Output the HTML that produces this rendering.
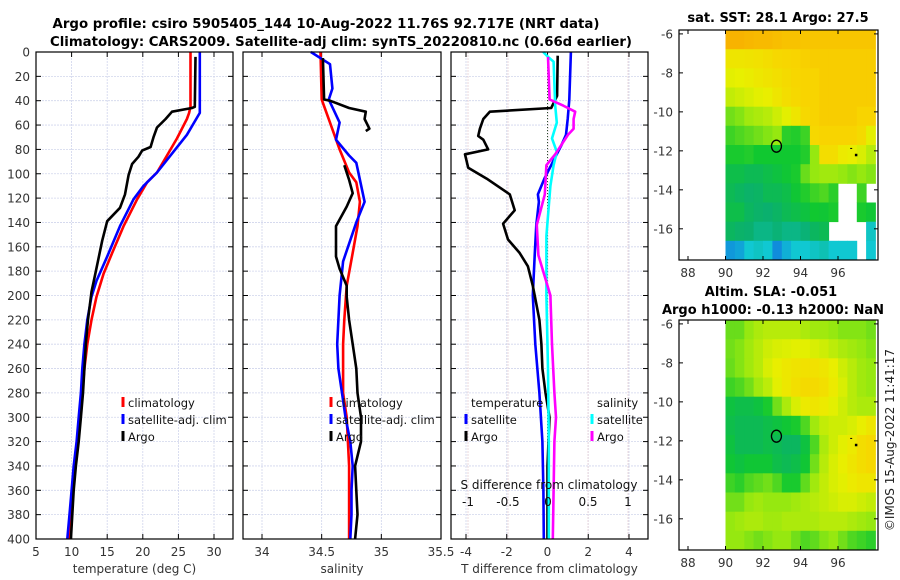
<!DOCTYPE html>
<html><head><meta charset="utf-8">
<style>
html,body{margin:0;padding:0;background:#fff;}
svg{display:block;font-family:"DejaVu Sans","Liberation Sans",sans-serif;}
</style></head>
<body>
<svg id="fig" width="900" height="580" viewBox="0 0 900 580" xmlns="http://www.w3.org/2000/svg">
<text x="326" y="28" font-size="13" font-weight="bold" text-anchor="middle" textLength="547" lengthAdjust="spacingAndGlyphs">Argo profile: csiro 5905405_144 10-Aug-2022 11.76S 92.717E (NRT data)</text>
<text x="341" y="46" font-size="13" font-weight="bold" text-anchor="middle" textLength="582" lengthAdjust="spacingAndGlyphs">Climatology: CARS2009. Satellite-adj clim: synTS_20220810.nc (0.66d earlier)</text>
<text x="778" y="22" font-size="13" font-weight="bold" text-anchor="middle">sat. SST: 28.1 Argo: 27.5</text>
<text x="771" y="296" font-size="13" font-weight="bold" text-anchor="middle">Altim. SLA: -0.051</text>
<text x="773" y="314" font-size="13" font-weight="bold" text-anchor="middle">Argo h1000: -0.13 h2000: NaN</text>
<text transform="translate(894,440) rotate(-90)" font-size="12" text-anchor="middle" fill="#222">©IMOS 15-Aug-2022 11:41:17</text>
<g id="plots"></g>
</svg>
<script>
// ---------- data ----------
const depthT=[0,45,50,55,71,85,99,107,121,143,165,182,201,220,240,260,280,300,320,340,360,380,400];
const tempClim=[26.7,26.7,26.5,26.2,24.8,23.4,22.0,20.6,19.2,17.3,15.7,14.5,13.5,12.8,12.2,11.8,11.5,11.2,10.9,10.5,10.2,9.9,9.6];
const depthTS=[0,50,68,82,99,110,121,143,168,188,201,220,240,260,280,300,320,340,360,380,400];
const tempSat=[28.0,28.0,26.2,24.3,22.0,20.1,18.7,16.8,15.0,13.5,12.8,12.2,11.8,11.5,11.3,11.0,10.7,10.3,10.0,9.7,9.4];
const depthTA=[4,45,46,49,55,62,70,78,81,86,92,101,117,128,139,155,172,183,197,220,240,260,280,300,320,340,360,380,400];
const tempArgo=[27.4,27.3,26.9,24.1,23.2,22.0,21.5,21.1,19.9,19.4,18.5,18.0,17.5,16.8,15.0,14.3,13.7,13.3,12.8,12.3,12.0,11.8,11.6,11.3,11.0,10.6,10.3,10.1,9.9];

const depthSC=[0,39,58,80,99,107,123,143,165,192,220,240,260,280,300,320,340,360,380,400];
const salClim=[34.49,34.5,34.57,34.65,34.73,34.79,34.82,34.80,34.76,34.71,34.69,34.68,34.68,34.68,34.71,34.72,34.73,34.73,34.73,34.73];
const depthSS=[0,10,30,39,58,72,85,91,123,140,172,200,220,240,260,280,300,320,340,360,380,400];
const salSat=[34.41,34.57,34.59,34.56,34.65,34.62,34.73,34.79,34.86,34.79,34.68,34.65,34.64,34.63,34.64,34.67,34.70,34.74,34.76,34.75,34.75,34.74];
const depthSA=[5,39,40,46,49,55,63,65,83,93,105,116,127,143,168,178,192,201,220,240,260,280,300,320,340,360,380,400];
const salArgo=[34.51,34.52,34.57,34.73,34.87,34.86,34.90,34.87,null,34.69,34.73,34.76,34.71,34.62,34.62,34.65,34.71,34.71,34.73,34.76,34.79,34.80,34.83,34.83,34.78,34.79,34.80,34.78];

const depthDTS=[0,39,55,68,77,85,104,117,123,142,167,200,240,280,320,360,400];
const dTsat=[1.15,1.07,0.99,0.91,0.67,0.42,-0.15,-0.47,-0.42,-0.55,-0.63,-0.72,-0.6,-0.4,-0.25,-0.2,-0.18];
const depthDTA=[3,36,46,49,55,63,69,72,80,84,95,104,117,130,141,154,165,176,192,200,220,240,260,280,300,320,340,360,380,400];
const dTargo=[0.5,0.47,0.18,-2.83,-3.15,-3.32,-3.4,-3.15,-2.91,-4.05,-3.89,-2.99,-1.85,-1.61,-2.18,-1.94,-1.37,-0.96,-0.72,-0.63,-0.4,-0.3,-0.25,-0.1,0.1,0.05,0.0,0.0,0.0,0.0];
const depthDSS=[0,4,8,44,58,71,82,93,110,151,200,260,320,400];
const dSsat=[-0.06,0,0.07,0.09,0.11,0.05,0.11,0.07,0.03,-0.02,-0.02,0.0,0.01,0.01];
const depthDSA=[4,39,44,49,55,63,68,84,93,117,142,167,200,240,280,300,320,360,400];
const dSargo=[0,0.02,0.19,0.34,0.32,0.32,0.25,0.09,-0.02,-0.04,-0.14,-0.12,0.03,0.05,0.08,0.1,0.08,0.07,0.06];

const depthTicks=[0,20,40,60,80,100,120,140,160,180,200,220,240,260,280,300,320,340,360,380,400];
const tTicks=[5,10,15,20,25,30];
const sTicks=[34,34.5,35,35.5];
const dtTicks=[-4,-2,0,2,4];
const dsTicks=[-1,-0.5,0,0.5,1];
const lonTicks=[88,90,92,94,96];
const latTicks=[-6,-8,-10,-12,-14,-16];

const sstGrid=[
[0.97,0.97,0.96,0.95,0.95,0.94,0.93,0.93,0.92,0.92,0.92,0.92,0.92,0.92,0.92,0.92],
[0.8,0.8,0.81,0.82,0.84,0.86,0.87,0.88,0.89,0.9,0.9,0.9,0.9,0.9,0.9,0.9],
[0.74,0.75,0.77,0.79,0.81,0.83,0.85,0.87,0.88,0.88,0.9,0.9,0.9,0.9,0.9,0.9],
[0.68,0.7,0.72,0.74,0.76,0.8,0.84,0.86,0.88,0.88,0.9,0.9,0.9,0.9,0.9,0.9],
[0.56,0.58,0.62,0.64,0.66,0.7,0.74,0.8,0.86,0.88,0.9,0.9,0.9,0.9,0.88,0.88],
[0.5,0.52,0.54,0.56,0.58,0.6,0.48,0.47,0.5,0.86,0.88,0.88,0.88,0.88,0.85,0.74],
[0.46,0.46,0.47,0.45,0.45,0.45,0.45,0.45,0.47,0.6,0.84,0.84,0.78,0.76,0.72,0.66],
[0.4,0.4,0.38,0.38,0.4,0.42,0.44,0.46,0.55,0.6,0.62,0.62,0.6,0.58,0.6,0.58],
[0.38,0.36,0.34,0.35,0.38,0.38,0.4,0.44,0.47,0.5,0.52,0.48,null,null,0.5,null],
[0.4,0.4,0.36,0.34,0.33,0.35,0.38,0.4,0.42,0.45,0.44,0.46,null,null,0.46,0.44],
[0.36,0.34,0.33,0.3,0.3,0.32,0.3,0.3,0.32,0.36,0.38,null,null,null,null,0.22],
[0.12,0.14,0.2,0.22,0.2,0.1,0.16,0.2,0.2,0.22,0.24,0.2,0.2,0.2,null,0.2]
];
const slaGrid=[
[0.55,0.55,0.6,0.64,0.66,0.66,0.66,0.66,0.64,0.62,0.62,0.6,0.58,0.58,0.58,0.56],
[0.56,0.58,0.62,0.66,0.7,0.72,0.73,0.74,0.74,0.72,0.7,0.67,0.64,0.62,0.6,0.58],
[0.55,0.58,0.62,0.66,0.72,0.76,0.79,0.81,0.82,0.82,0.8,0.76,0.7,0.66,0.62,0.6],
[0.5,0.52,0.56,0.62,0.67,0.74,0.79,0.83,0.85,0.85,0.83,0.78,0.72,0.66,0.62,0.6],
[0.42,0.4,0.4,0.42,0.46,0.56,0.64,0.72,0.78,0.8,0.78,0.74,0.7,0.66,0.64,0.64],
[0.4,0.38,0.38,0.38,0.4,0.42,0.44,0.46,0.52,0.62,0.68,0.7,0.7,0.72,0.76,0.8],
[0.42,0.38,0.38,0.38,0.4,0.38,0.36,0.36,0.42,0.52,0.64,0.7,0.74,0.78,0.84,0.86],
[0.44,0.42,0.44,0.44,0.44,0.4,0.38,0.4,0.44,0.56,0.66,0.72,0.76,0.8,0.84,0.86],
[0.5,0.48,0.52,0.54,0.56,0.52,0.46,0.46,0.54,0.62,0.68,0.72,0.74,0.78,0.8,0.8],
[0.56,0.56,0.6,0.62,0.6,0.6,0.6,0.62,0.64,0.66,0.68,0.7,0.72,0.72,0.7,0.68],
[0.6,0.62,0.64,0.64,0.62,0.62,0.64,0.64,0.64,0.64,0.66,0.66,0.66,0.64,0.62,0.6],
[0.6,0.6,0.58,0.56,0.58,0.6,0.6,0.56,0.52,0.54,0.58,0.6,0.56,0.52,0.5,0.48]
];
const argoLon=92.717, argoLat=-11.76;

// ---------- drawing ----------
const NS='http://www.w3.org/2000/svg';
const root=document.getElementById('plots');
function el(tag,attrs,parent){const e=document.createElementNS(NS,tag);for(const k in attrs)e.setAttribute(k,attrs[k]);(parent||root).appendChild(e);return e;}
function txt(s,attrs,parent){const e=el('text',attrs,parent);e.textContent=s;return e;}

const Y0=52,Y1=539;
const ys=d=>Y0+(d/400)*(Y1-Y0);
function lin(d0,d1,r0,r1){return v=>r0+(v-d0)/(d1-d0)*(r1-r0);}

function panel(name,x0,x1,xs,ticks,fmt,label,showY,extraGrid){
  const g=el('g',{});
  
  
  depthTicks.forEach(d=>{const l=el('line',{x1:x0,x2:x1,y1:ys(d),y2:ys(d),stroke:'#d0d5ec','stroke-width':0.8,'stroke-dasharray':'2,1'},g);
    });
  ticks.forEach(t=>{const x=xs(t);const l=el('line',{x1:x,x2:x,y1:Y0,y2:Y1,stroke:'#d0d5ec','stroke-width':0.8,'stroke-dasharray':'2,1'},g);
    });
  if(extraGrid)extraGrid.forEach(x=>{const l=el('line',{x1:x,x2:x,y1:Y0,y2:Y1,stroke:'#e6d0d6','stroke-width':0.8,'stroke-dasharray':'2,1'},g);
    });
  depthTicks.forEach(d=>{el('line',{x1:x0,x2:x0+5,y1:ys(d),y2:ys(d),stroke:'#000'},g);el('line',{x1:x1-5,x2:x1,y1:ys(d),y2:ys(d),stroke:'#000'},g);
    if(showY){const t=txt(String(d),{x:x0-6,y:ys(d)+4.5,'font-size':12,'text-anchor':'end',fill:'#333'},g);}});
  ticks.forEach(t=>{const x=xs(t);el('line',{x1:x,x2:x,y1:Y1-5,y2:Y1,stroke:'#000'},g);el('line',{x1:x,x2:x,y1:Y0,y2:Y0+5,stroke:'#000'},g);
    const l=txt(fmt(t),{x:x,y:556,'font-size':12,'text-anchor':'middle',fill:'#333'},g);});
  const xl=txt(label,{x:(x0+x1)/2,y:573,'font-size':12,'text-anchor':'middle',fill:'#333'},g);
  
  return g;
}
function frame(g,x0,x1){const r=el('rect',{x:x0,y:Y0,width:x1-x0,height:Y1-Y0,fill:'none',stroke:'#000','stroke-width':1.2},g);
  }
function series(g,vals,depths,xs,color,name){
  let d='',pen=false;
  vals.forEach((v,i)=>{if(v===null){pen=false;return;}d+=(pen?'L':'M')+xs(v).toFixed(1)+','+ys(depths[i]).toFixed(1);pen=true;});
  const p=el('path',{d:d,fill:'none',stroke:color,'stroke-width':2.6,'stroke-linejoin':'round'},g);
  
}
function legend(g,items,x,y){
  items.forEach((it,i)=>{const yy=y+i*17;
    if(it[1]){const m=el('line',{x1:x,x2:x,y1:yy-10,y2:yy,stroke:it[1],'stroke-width':3},g);
      }
    const t=txt(it[0],{x:x+5,y:yy,'font-size':11.5,fill:'#111'},g);
    });
}

const xT=lin(5,30,36,214);
const g1=panel('temperature-panel',36,233,xT,tTicks,String,'temperature (deg C)',true);
series(g1,tempClim,depthT,xT,'#ff0000','climatology-temp-line');
series(g1,tempSat,depthTS,xT,'#0000ff','satellite-temp-line');
series(g1,tempArgo,depthTA,xT,'#000000','argo-temp-line');
frame(g1,36,233);
legend(g1,[['climatology','#ff0000'],['satellite-adj. clim','#0000ff'],['Argo','#000']],123,407);

const xS=lin(34,35.5,262,441);
const g2=panel('salinity-panel',243,441,xS,sTicks,String,'salinity',false);
series(g2,salClim,depthSC,xS,'#ff0000','climatology-salinity-line');
series(g2,salSat,depthSS,xS,'#0000ff','satellite-salinity-line');
series(g2,salArgo,depthSA,xS,'#000000','argo-salinity-line');
frame(g2,243,441);
legend(g2,[['climatology','#ff0000'],['satellite-adj. clim','#0000ff'],['Argo','#000']],331,407);

const xDT=lin(-4,4,466,629);
const xDS=lin(-1,1,468,628);
const g3=panel('difference-panel',451,648,xDT,dtTicks,String,'T difference from climatology',false,dsTicks.map(xDS));
const z=el('line',{x1:xDT(0),x2:xDT(0),y1:Y0,y2:Y1,stroke:'#2a4a2a','stroke-width':1,'stroke-dasharray':'1,2'},g3);

series(g3,dTsat,depthDTS,xDT,'#0000ff','satellite-temp-diff-line');
series(g3,dTargo,depthDTA,xDT,'#000000','argo-temp-diff-line');
series(g3,dSsat,depthDSS,xDS,'#00ffff','satellite-salinity-diff-line');
series(g3,dSargo,depthDSA,xDS,'#ff00ff','argo-salinity-diff-line');
frame(g3,451,648);
legend(g3,[['temperature',null],['satellite','#0000ff'],['Argo','#000']],466,407);
legend(g3,[['salinity',null],['satellite','#00ffff'],['Argo','#ff00ff']],592,407);
const st=txt('S difference from climatology',{x:549,y:489,'font-size':12,'text-anchor':'middle',fill:'#111'},g3);

dsTicks.forEach(t=>{const l=txt(String(t),{x:xDS(t),y:506,'font-size':12,'text-anchor':'middle',fill:'#111'},g3);
  });

const stops=[[0,[16,80,230]],[0.2,[16,200,210]],[0.33,[10,176,110]],[0.45,[16,200,48]],[0.6,[150,232,16]],[0.75,[232,240,0]],[0.88,[248,212,0]],[1,[248,168,0]]];
function cmap(v){for(let i=1;i<stops.length;i++){if(v<=stops[i][0]){const a=stops[i-1],b=stops[i],f=(v-a[0])/(b[0]-a[0]);
  return 'rgb('+a[1].map((c,k)=>Math.round(c+(b[1][k]-c)*f)).join(',')+')';}}return 'rgb(248,168,0)';}
function mapPanel(name,top,bot,grid){
  const g=el('g',{});
  
  const X0=679,X1=878;
  const xL=lin(88,96,688,838);
  const latTop=-5.8,latBot=-17.6;
  const yL=lin(latTop,latBot,top,bot);
  const nr=grid.length,nc=grid[0].length;
  grid.forEach((row,r)=>row.forEach((v,c)=>{
    if(v===null)return;
    const la0=latTop+(latBot-latTop)*r/nr,la1=latTop+(latBot-latTop)*(r+1)/nr;
    const lo0=90+8*c/nc,lo1=90+8*(c+1)/nc;
    const x=xL(lo0),y=yL(la0);
    const cell=el('rect',{x:x.toFixed(1),y:y.toFixed(1),width:(xL(lo1)-x+0.4).toFixed(1),height:(yL(la1)-y+0.4).toFixed(1),fill:cmap(v)},g);
    
    
  }));
  const fr=el('rect',{x:X0,y:top,width:X1-X0,height:bot-top,fill:'none',stroke:'#000','stroke-width':1.2},g);
  
  lonTicks.forEach(t=>{const x=xL(t);el('line',{x1:x,x2:x,y1:bot-4,y2:bot,stroke:'#000'},g);el('line',{x1:x,x2:x,y1:top,y2:top+4,stroke:'#000'},g);
    const l=txt(String(t),{x:x,y:bot+17,'font-size':12,'text-anchor':'middle',fill:'#333'},g);});
  latTicks.forEach(t=>{const y=yL(t);el('line',{x1:X0,x2:X0+4,y1:y,y2:y,stroke:'#000'},g);el('line',{x1:X1-4,x2:X1,y1:y,y2:y,stroke:'#000'},g);
    const l=txt(String(t),{x:X0-6,y:y+4.5,'font-size':12,'text-anchor':'end',fill:'#333'},g);});
  const c=el('ellipse',{cx:xL(argoLon),cy:yL(argoLat),rx:5,ry:6,fill:'none',stroke:'#000','stroke-width':1.3},g);
  
  el('rect',{x:xL(96.65),y:yL(-11.85),width:2,height:1,fill:'#000'},g);
  el('rect',{x:xL(96.9),y:yL(-12.15),width:2.5,height:2.5,fill:'#000'},g);
}
mapPanel('sst-map',30,260,sstGrid);
mapPanel('sla-map',320,550,slaGrid);
</script>
</body></html>
